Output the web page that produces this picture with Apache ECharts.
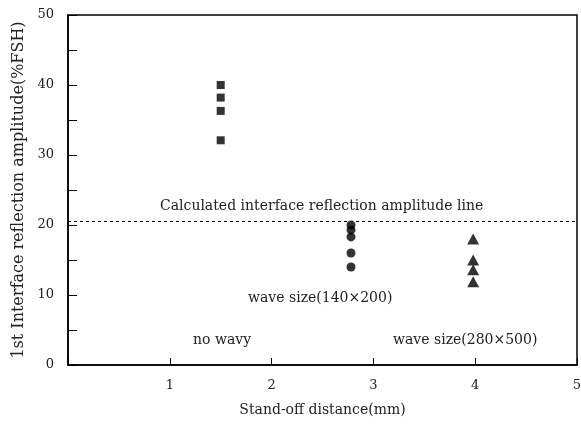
<!DOCTYPE html>
<html>
<head>
<meta charset="utf-8">
<script src="https://cdn.jsdelivr.net/npm/echarts@6/dist/echarts.min.js"></script>
<style>
  html, body { margin: 0; padding: 0; background: #fff; }
  #chart { width: 581px; height: 428px; }
</style>
</head>
<body>
<div id="chart"></div>
<script>
// data
const noWavyX = 1.5;
const noWavy = [40, 38.2, 36.3, 32.1];
const smallWaveX = 2.78;
const smallWave = [20, 19.3, 18.3, 16, 14];
const largeWaveX = 3.98;
const largeWave = [18, 15, 13.6, 11.9];
const calcLine = 20.6;

const xTicks = ['', '1', '2', '3', '4', '5'];
const yTicks = [0, 10, 20, 30, 40, 50];

const FONT = '"DejaVu Serif", "Liberation Serif", serif';

const chart = echarts.init(document.getElementById('chart'));

function pts(x, ys) {
  return ys.map(y => [x, y]);
}

const option = {
  animation: false,
  grid: {
    left: 68, right: 4, top: 15, bottom: 63,
    outerBoundsMode: 'none',
    show: true, borderColor: '#000', borderWidth: 1.5,
    backgroundColor: 'transparent'
  },
  xAxis: {
    type: 'value', min: 0, max: 5, interval: 1,
    name: 'Stand-off distance(mm)',
    nameLocation: 'middle', nameGap: 38,
    nameTextStyle: { fontFamily: FONT, fontSize: 14, color: '#222' },
    axisLine: { lineStyle: { color: '#000', width: 1.5 } },
    axisTick: { inside: true, length: 7, lineStyle: { color: '#000' } },
    axisLabel: {
      fontFamily: FONT, fontSize: 13, color: '#222', margin: 14,
      formatter: v => xTicks[Math.round(v)] || ''
    },
    splitLine: { show: false }
  },
  yAxis: {
    type: 'value', min: 0, max: 50, interval: 5,
    name: '1st Interface reflection amplitude(%FSH)',
    nameLocation: 'middle', nameGap: 33,
    nameTextStyle: { fontFamily: FONT, fontSize: 16, color: '#222' },
    axisLine: { lineStyle: { color: '#000', width: 1.5 } },
    axisTick: { inside: true, length: 9, lineStyle: { color: '#000' } },
    axisLabel: {
      fontFamily: FONT, fontSize: 13, color: '#222', margin: 14,
      formatter: v => yTicks.includes(v) ? String(v) : ''
    },
    splitLine: { show: false }
  },
  graphic: [
    {
      type: 'text', left: 160, top: 199,
      style: { text: 'Calculated interface reflection amplitude line', font: '14px ' + FONT, fill: '#222' }
    },
    {
      type: 'text', left: 248, top: 291,
      style: { text: 'wave size(140×200)', font: '14px ' + FONT, fill: '#222' }
    },
    {
      type: 'text', left: 193, top: 333,
      style: { text: 'no wavy', font: '14px ' + FONT, fill: '#222' }
    },
    {
      type: 'text', left: 393, top: 333,
      style: { text: 'wave size(280×500)', font: '14px ' + FONT, fill: '#222' }
    }
  ],
  series: [
    {
      name: 'no wavy', type: 'scatter', symbol: 'rect', symbolSize: [8, 8],
      itemStyle: { color: '#000' },
      data: pts(noWavyX, noWavy),
      markLine: {
        silent: true, symbol: 'none', label: { show: false },
        lineStyle: { color: '#000', type: [3, 3], width: 1 },
        data: [{ yAxis: calcLine }]
      }
    },
    {
      name: 'wave size(140x200)', type: 'scatter', symbol: 'circle', symbolSize: 9,
      itemStyle: { color: '#000' },
      data: pts(smallWaveX, smallWave)
    },
    {
      name: 'wave size(280x500)', type: 'scatter', symbol: 'triangle', symbolSize: [12, 11],
      itemStyle: { color: '#000' },
      data: pts(largeWaveX, largeWave)
    }
  ]
};

chart.setOption(option);
</script>
</body>
</html>
